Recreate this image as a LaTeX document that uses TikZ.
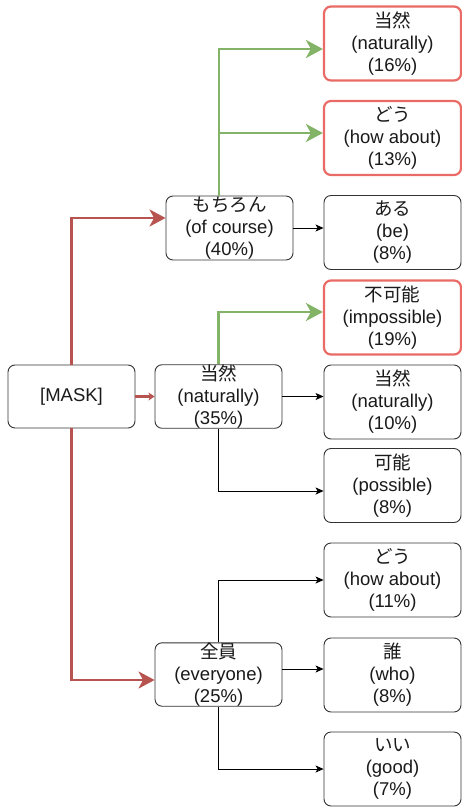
\documentclass[tikz,border=0pt]{standalone}
\usepackage{fontspec}
\setmainfont{Liberation Sans}
\newfontfamily\jp{Noto Sans CJK JP}
\usetikzlibrary{arrows.meta}
\definecolor{redline}{HTML}{B85450}
\definecolor{redborder}{HTML}{EA6B66}
\definecolor{greenline}{HTML}{82B366}
\definecolor{boxborder}{HTML}{333333}
\definecolor{txt}{HTML}{1A1A1A}
\begin{document}
\begin{tikzpicture}[x=1pt,y=-1pt,
  box/.style={draw=boxborder, line width=0.9pt, rounded corners=7pt, fill=white,
    inner sep=0pt, align=center, text=txt,
    font=\fontsize{18.5}{22}\selectfont},
  leftbox/.style={box, minimum width=127pt, minimum height=63pt},
  rightbox/.style={box, minimum width=137pt, minimum height=74pt},
  redbox/.style={rightbox, draw=redborder, line width=2.2pt},
  redarrow/.style={draw=redline, line width=2.8pt, -{Stealth[length=16pt,width=17pt,inset=4.5pt]}},
  redshort/.style={draw=redline, line width=2.8pt, -{Stealth[length=6pt,width=8pt,inset=1.5pt]}},
  greenarrow/.style={draw=greenline, line width=2.8pt, -{Stealth[length=17pt,width=18pt,inset=5pt]}},
  blackarrow/.style={draw=black, line width=0.8pt, -{Stealth[length=8pt,width=7pt,inset=2pt]}}
]
\useasboundingbox (0,0) rectangle (462,810);

\node[leftbox] (mask) at (71.5,396.5) {[MASK]};
\node[leftbox, minimum height=64pt] (a) at (229.5,228) {{\jp もちろん}\\(of course)\\(40\%)};
\node[leftbox] (b) at (218.5,396.5) {{\jp 当然}\\(naturally)\\(35\%)};
\node[leftbox] (c) at (218.5,674.5) {{\jp 全員}\\(everyone)\\(25\%)};

\node[redbox] (r1) at (392.5,43.5) {{\jp 当然}\\(naturally)\\(16\%)};
\node[redbox] (r2) at (392.5,138) {{\jp どう}\\(how about)\\(13\%)};
\node[rightbox] (r3) at (392.5,232.5) {{\jp ある}\\(be)\\(8\%)};
\node[redbox] (r4) at (392.5,317.5) {{\jp 不可能}\\(impossible)\\(19\%)};
\node[rightbox] (r5) at (392.5,402) {{\jp 当然}\\(naturally)\\(10\%)};
\node[rightbox] (r6) at (392.5,485.5) {{\jp 可能}\\(possible)\\(8\%)};
\node[rightbox] (r7) at (392.5,580) {{\jp どう}\\(how about)\\(11\%)};
\node[rightbox] (r8) at (392.5,675) {{\jp 誰}\\(who)\\(8\%)};
\node[rightbox] (r9) at (392.5,769) {{\jp いい}\\(good)\\(7\%)};

% red connectors from [MASK]
\draw[redarrow] (mask.north) |- ([yshift=10pt]a.west);
\draw[redarrow] (mask.south) |- ([yshift=-5.5pt]c.west);
\draw[redshort] (mask.east) -- (b.west);

% green connectors
\draw[greenarrow] ([xshift=-10.5pt]a.north) |- ([yshift=-5.5pt]r1.west);
\draw[greenarrow] ([xshift=-10.5pt]a.north) |- ([yshift=5pt]r2.west);
\draw[greenarrow] (b.north) |- ([yshift=5.5pt]r4.west);

% black connectors
\draw[blackarrow] (a.east) -- (a.east -| r3.west);
\draw[blackarrow] (b.east) -- (b.east -| r5.west);
\draw[blackarrow] (b.south) |- ([yshift=-5.5pt]r6.west);
\draw[blackarrow] (c.north) |- (r7.west);
\draw[blackarrow] ([yshift=5.5pt]c.east) -- ([yshift=5.5pt]c.east -| r8.west);
\draw[blackarrow] (c.south) |- (r9.west);
\end{tikzpicture}
\end{document}
